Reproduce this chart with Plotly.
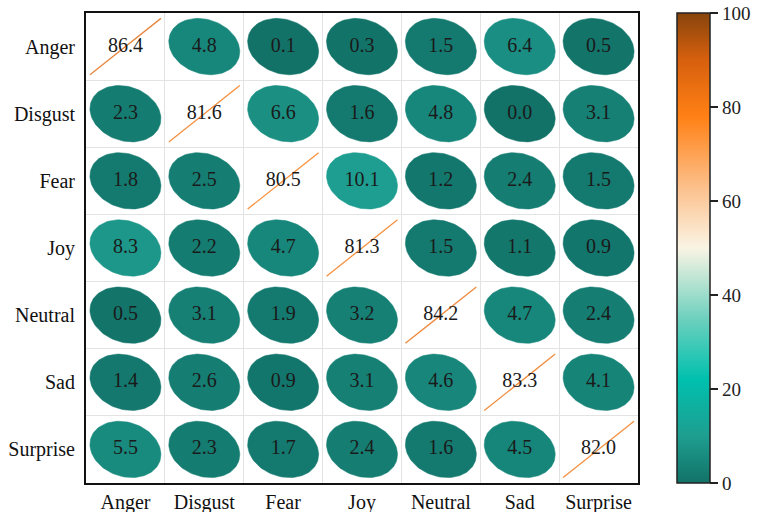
import numpy as np
import plotly.graph_objects as go
from plotly.colors import sample_colorscale

# Emotion classes (rows = true label, columns = predicted label)
labels = ["Anger", "Disgust", "Fear", "Joy", "Neutral", "Sad", "Surprise"]

anger    = [86.4, 4.8, 0.1, 0.3, 1.5, 6.4, 0.5]
disgust  = [2.3, 81.6, 6.6, 1.6, 4.8, 0.0, 3.1]
fear     = [1.8, 2.5, 80.5, 10.1, 1.2, 2.4, 1.5]
joy      = [8.3, 2.2, 4.7, 81.3, 1.5, 1.1, 0.9]
neutral  = [0.5, 3.1, 1.9, 3.2, 84.2, 4.7, 2.4]
sad      = [1.4, 2.6, 0.9, 3.1, 4.6, 83.3, 4.1]
surprise = [5.5, 2.3, 1.7, 2.4, 1.6, 4.5, 82.0]

matrix = [anger, disgust, fear, joy, neutral, sad, surprise]

colorbar_ticks = [0, 20, 40, 60, 80, 100]

# teal -> cream -> orange -> brown
colorscale = [
    [0.00, "rgb(18,114,104)"],
    [0.10, "rgb(30,158,144)"],
    [0.22, "rgb(0,192,174)"],
    [0.35, "rgb(110,208,190)"],
    [0.50, "rgb(250,244,228)"],
    [0.62, "rgb(252,196,146)"],
    [0.78, "rgb(255,128,20)"],
    [0.90, "rgb(215,96,14)"],
    [1.00, "rgb(135,68,12)"],
]

FONT = "Liberation Serif, Times New Roman, serif"
RX, RY = 0.45, 0.42


def shape_r(v):
    # ellipse elongation: near-round for small shares, a line for large ones
    return -0.18 + 1.18 * min(1.0, max(0.0, (v - 20.0) / 55.0))


fig = go.Figure()

t = np.linspace(0, 2 * np.pi, 100)
tx, ty, tt = [], [], []
for i, row in enumerate(matrix):
    for j, v in enumerate(row):
        r = shape_r(v)
        d = np.arccos(np.clip(r, -1, 1))
        xs = j + RX * np.cos(t + d / 2)
        ys = i - RY * np.cos(t - d / 2)
        col = sample_colorscale(colorscale, [v / 100.0])[0]
        fig.add_trace(go.Scatter(
            x=xs, y=ys, mode="lines", fill="toself",
            fillcolor=col,
            line=dict(color=col, width=1.3 if r > 0.95 else 0.5),
            opacity=0.8 if r > 0.95 else 1.0,
            hoverinfo="skip", showlegend=False,
        ))
        tx.append(j)
        ty.append(i)
        tt.append(f"{v:.1f}")

# value labels
fig.add_trace(go.Scatter(
    x=tx, y=ty, mode="text", text=tt,
    textfont=dict(family=FONT, size=20, color="#1a1a1a"),
    hoverinfo="skip", showlegend=False,
))

# colour bar
fig.add_trace(go.Scatter(
    x=[0, 0], y=[0, 0], mode="markers",
    marker=dict(
        color=[0, 100], colorscale=colorscale, cmin=0, cmax=100, size=0.1, opacity=0,
        showscale=True,
        colorbar=dict(
            x=1.0707, xanchor="left", xpad=0, y=0.5, yanchor="middle", ypad=0,
            len=1.0, lenmode="fraction", thickness=33,
            outlinewidth=1.5, outlinecolor="#222",
            tickvals=colorbar_ticks, ticks="outside", ticklen=8, tickwidth=1.5,
            tickcolor="#222",
            tickfont=dict(family=FONT, size=19, color="#222"),
        ),
    ),
    hoverinfo="skip", showlegend=False,
))

cell_edges = [k + 0.5 for k in range(-1, len(labels))]

fig.update_xaxes(
    range=[-0.5, 6.5], tickvals=list(range(len(labels))), ticktext=labels,
    showgrid=False, zeroline=False, automargin=False,
    showline=True, mirror=True, linewidth=2, linecolor="#111",
    tickfont=dict(family=FONT, size=20, color="#111"),
    minor=dict(tickvals=cell_edges, showgrid=True, gridcolor="#e3e3e3", gridwidth=1),
)
fig.update_yaxes(
    range=[6.5, -0.5], tickvals=list(range(len(labels))), ticktext=labels,
    showgrid=False, zeroline=False, automargin=False, ticklabelstandoff=5,
    showline=True, mirror=True, linewidth=2, linecolor="#111",
    tickfont=dict(family=FONT, size=20, color="#111"),
    minor=dict(tickvals=cell_edges, showgrid=True, gridcolor="#e3e3e3", gridwidth=1),
)

fig.update_layout(
    width=757, height=512,
    margin=dict(l=86, r=119, t=13, b=29, autoexpand=False),
    paper_bgcolor="white", plot_bgcolor="white",
)

fig.write_html("out.html")
